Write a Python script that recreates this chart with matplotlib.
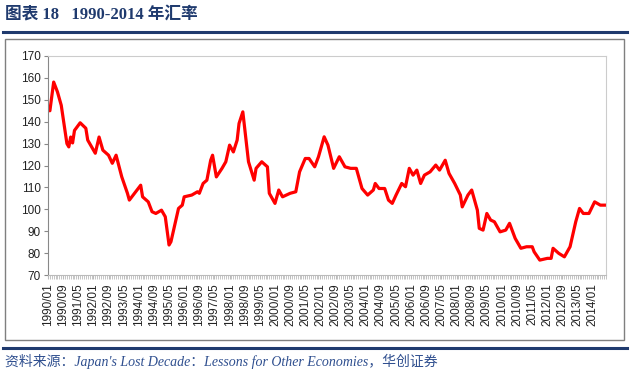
import matplotlib.pyplot as plt
from matplotlib.patches import Rectangle
from matplotlib.lines import Line2D

# month index from 1990/01 and exchange rate
months = [0, 1, 3, 5, 7, 10, 11, 12, 13, 14, 17, 20, 21, 25, 27, 29, 32, 34, 36, 39,
          42, 43, 49, 50, 53, 55, 57, 60, 62, 64, 65, 69, 71, 72, 76, 79, 80, 82, 84, 86,
          87, 89, 92, 94, 96, 98, 100, 101, 103, 106, 109, 110, 113, 116, 117, 120, 122, 124, 128, 131,
          133, 136, 138, 141, 143, 146, 148, 151, 154, 157, 160, 163, 166, 169, 172, 173, 175, 178, 180, 182,
          184, 187, 189, 191, 193, 195, 197, 199, 202, 205, 207, 210, 212, 215, 218, 219, 222, 224, 227, 228,
          230, 232, 234, 236, 239, 242, 244, 247, 250, 253, 256, 257, 260, 264, 266, 267, 270, 273, 276, 279,
          281, 283, 286, 289, 292, 295]
rates = [145.2, 145.0, 158.1, 153.6, 147.5, 130.0, 128.5, 133.0, 130.3, 136.0, 139.5, 137.0, 131.6, 125.6, 133.0, 127.0, 124.7, 121.0, 124.7, 114.8,
         107.3, 104.2, 111.0, 105.7, 103.4, 98.9, 98.1, 99.6, 96.6, 83.7, 85.2, 100.4, 101.9, 105.7, 106.5, 108.0, 107.3, 111.8, 113.3, 122.4,
         124.7, 114.8, 118.7, 121.7, 129.3, 126.2, 131.6, 139.2, 144.5, 121.7, 113.3, 118.7, 121.7, 119.4, 107.3, 102.7, 108.8, 105.7, 107.3, 108.0,
         117.1, 123.2, 123.2, 119.4, 124.0, 133.1, 129.3, 118.7, 124.0, 119.4, 118.7, 118.7, 109.5, 106.5, 108.8, 111.8, 109.5, 109.5, 104.2, 102.7,
         106.5, 111.8, 110.3, 118.7, 115.6, 117.9, 111.8, 115.6, 117.1, 120.2, 117.9, 122.4, 116.4, 111.8, 106.5, 101.1, 106.5, 108.8, 99.6, 91.3,
         90.5, 98.1, 95.1, 94.3, 89.7, 90.5, 93.6, 86.7, 82.2, 82.9, 82.9, 80.6, 76.8, 77.6, 77.6, 82.2, 79.9, 78.3, 82.9, 94.3,
         100.4, 98.1, 98.1, 103.4, 101.9, 101.9]

tick_months = list(range(0, 289, 8))
tick_labels = [f"{1990 + m // 12}/{m % 12 + 1:02d}" for m in tick_months]
y_ticks = list(range(70, 171, 10))

title = "图表 18   1990-2014 年汇率"
source = "资料来源：Japan's Lost Decade：Lessons for Other Economies，华创证券"

navy = "#1f3a6e"

fig = plt.figure(figsize=(6.4, 3.77), dpi=100)

# outer frame
fig.patches.append(Rectangle((5 / 640, 1 - 340 / 377), 619 / 640, 301 / 377,
                             transform=fig.transFigure, fill=False,
                             edgecolor="#7f7f7f", linewidth=1.0))
fig.lines.append(Line2D([3 / 640, 627 / 640], [1 - 32 / 377] * 2, transform=fig.transFigure,
                        color=navy, linewidth=2.2))
fig.lines.append(Line2D([3 / 640, 627 / 640], [1 - 348 / 377] * 2, transform=fig.transFigure,
                        color=navy, linewidth=2.2))

fig.text(5 / 640, 1 - 15 / 377, title, fontsize=12, fontweight="bold", color=navy,
         family=["Liberation Serif", "Noto Sans CJK SC"], va="center", ha="left")
fig.text(5 / 640, 1 - 361 / 377, source, fontsize=10, style="italic", color="#2f4f8f",
         family=["Liberation Serif", "Noto Sans CJK SC"], va="center", ha="left")

ax = fig.add_axes([48 / 640, 1 - 275 / 377, 558 / 640, 219 / 377])
ax.plot(months, rates, color="#ff0000", linewidth=2.3, solid_joinstyle="round")

ax.set_xlim(0, 295)
ax.set_ylim(70, 170)
ax.set_yticks(y_ticks)
ax.set_xticks(tick_months)
ax.set_xticklabels(tick_labels, rotation=90)
ax.set_xticks(range(0, 296), minor=True)

for lab in ax.get_xticklabels() + ax.get_yticklabels():
    lab.set_family("Liberation Sans")
    lab.set_fontsize(8.5)
    lab.set_color("#222222")

ax.tick_params(axis="y", length=3, color="#888888", pad=2)
ax.tick_params(axis="x", which="both", length=3, color="#bbbbbb", pad=3)

ax.spines["left"].set_color("#888888")
ax.spines["bottom"].set_color("#bbbbbb")
ax.spines["top"].set_color("#cccccc")
ax.spines["right"].set_color("#cccccc")
for s in ax.spines.values():
    s.set_linewidth(0.8)

fig.savefig("out.png", dpi=100)
